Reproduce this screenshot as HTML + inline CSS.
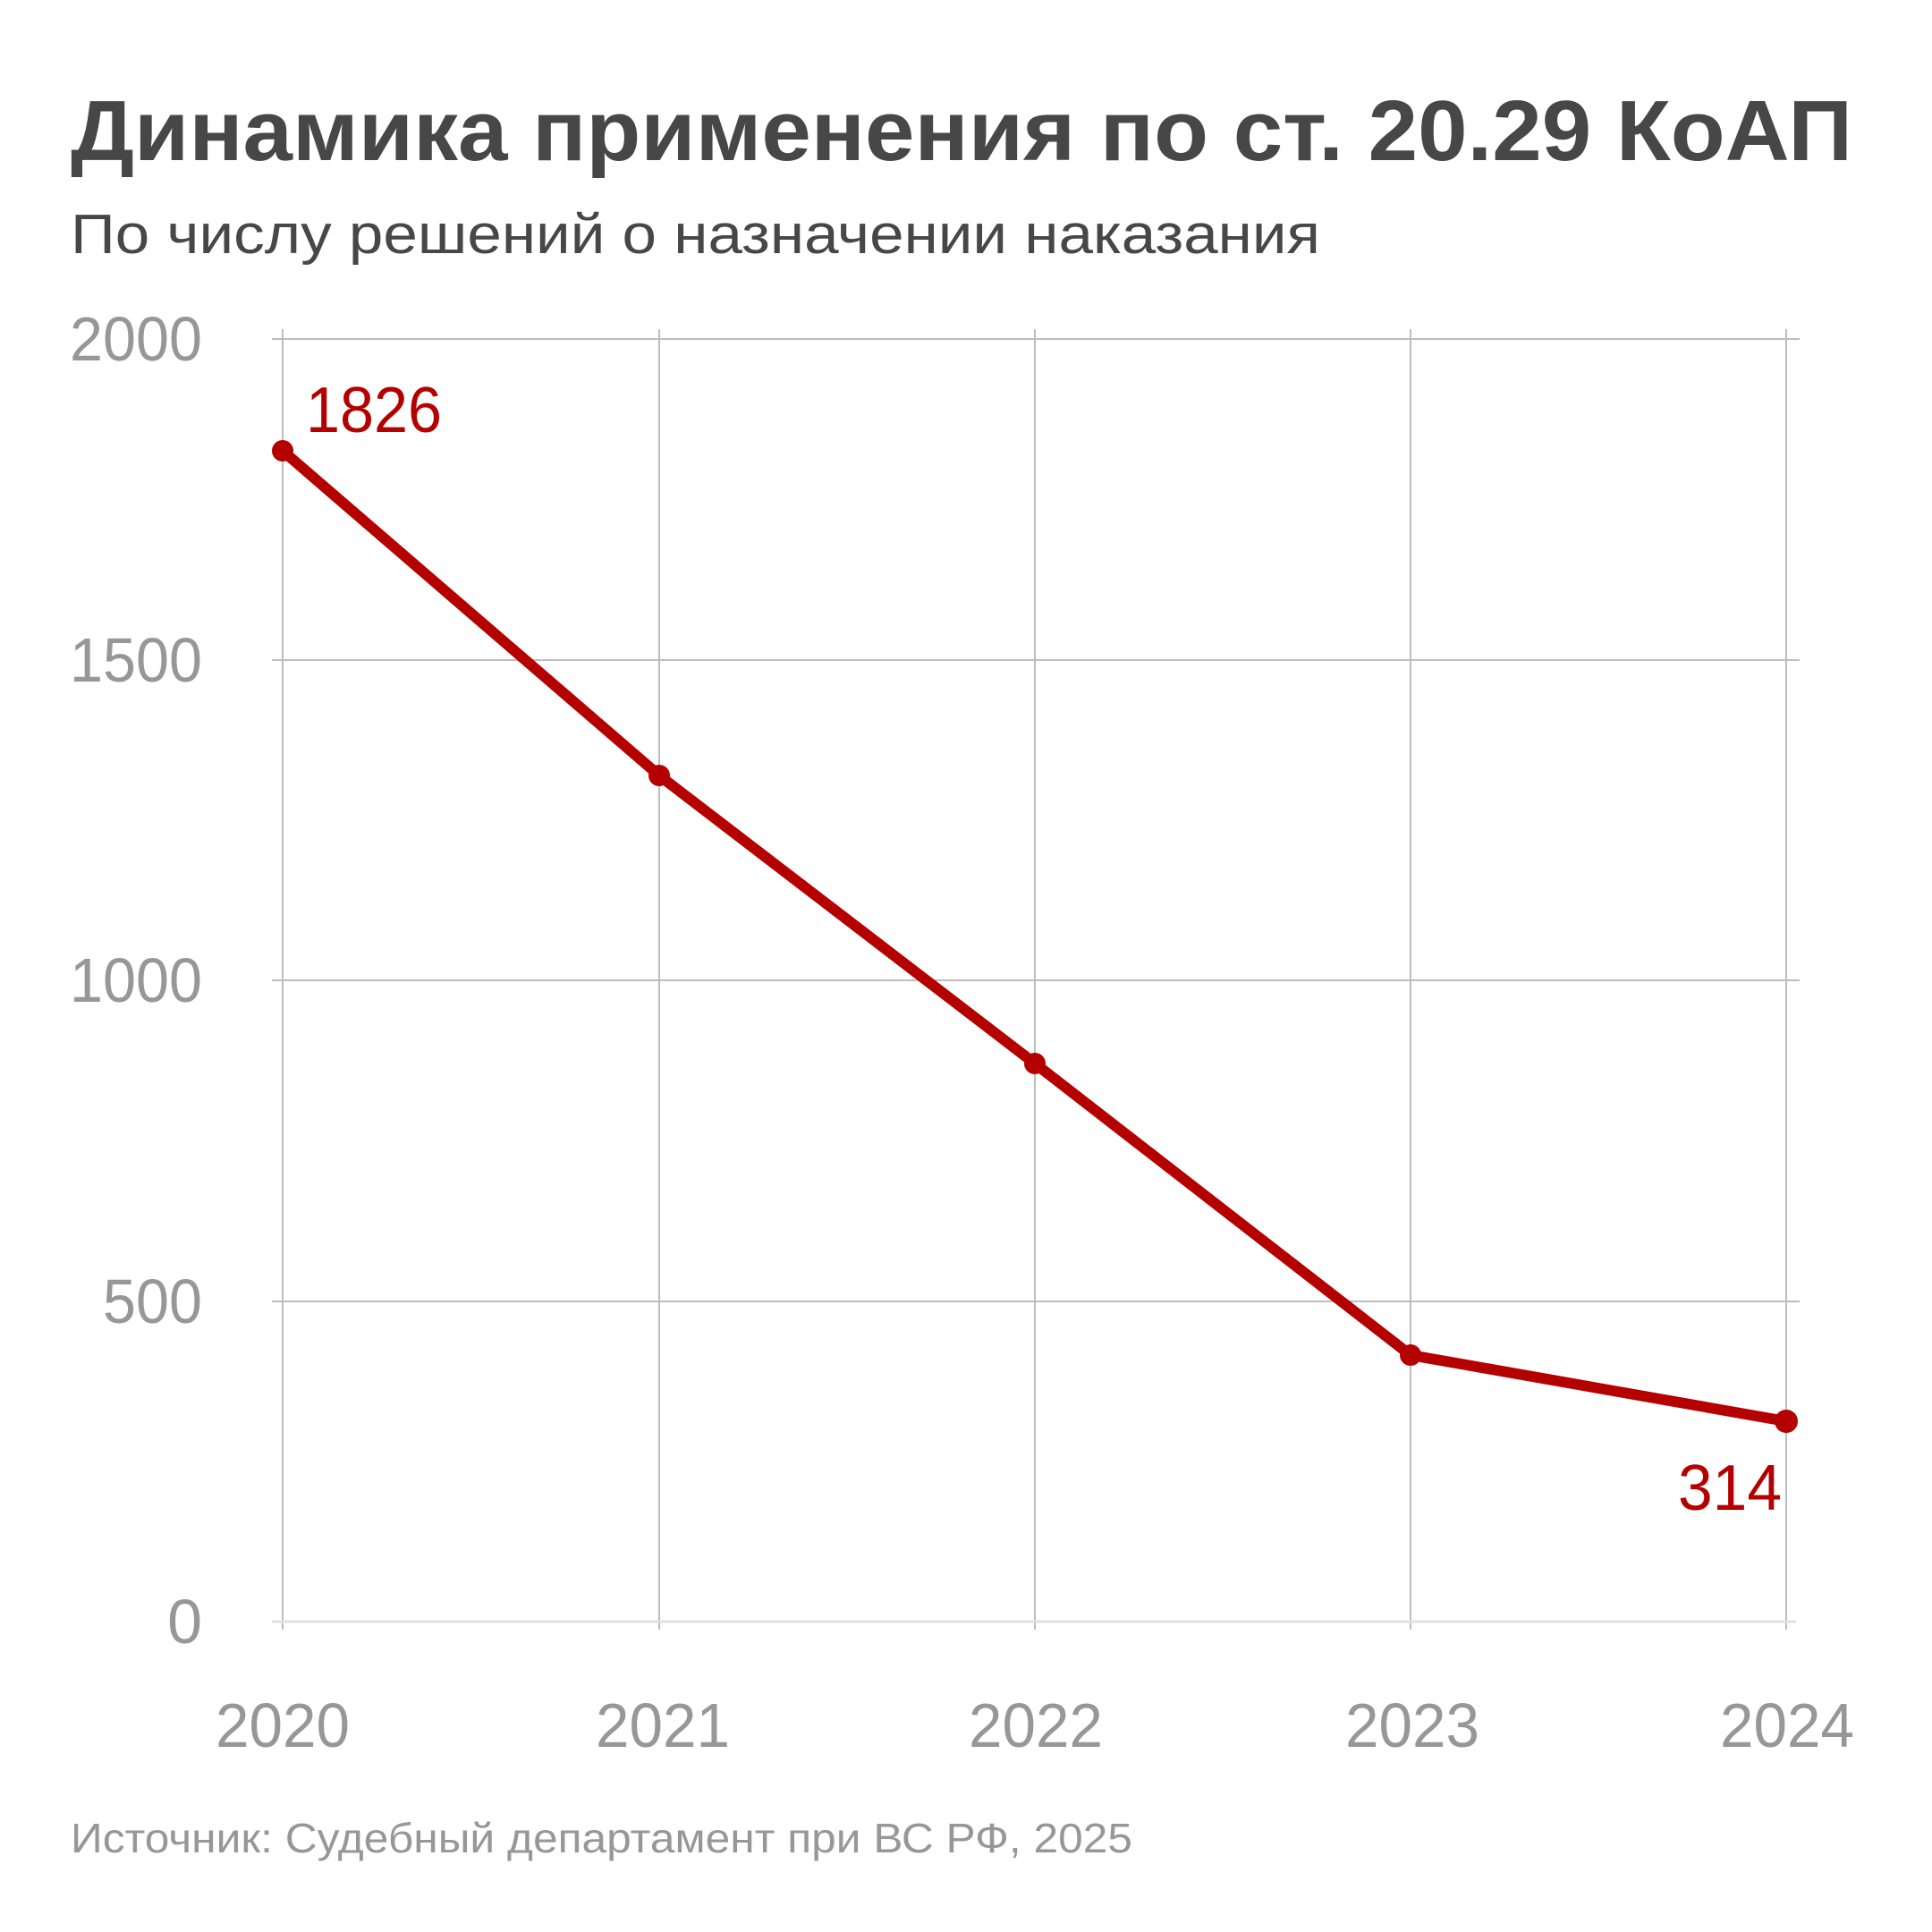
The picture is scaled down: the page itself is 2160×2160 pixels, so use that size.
<!DOCTYPE html>
<html><head><meta charset="utf-8"><style>
html,body{margin:0;padding:0;background:#fff;}
svg{display:block;}
</style></head><body>
<svg width="2160" height="2160" viewBox="0 0 2160 2160" xmlns="http://www.w3.org/2000/svg" font-family="'Liberation Sans', sans-serif">
<text x="79" y="179" font-size="96" font-weight="bold" fill="#474747" textLength="1992" lengthAdjust="spacingAndGlyphs">Динамика применения по ст. 20.29 КоАП</text>
<text x="79" y="283" font-size="62" fill="#474747" textLength="1397" lengthAdjust="spacingAndGlyphs">По числу решений о назначении наказания</text>
<g stroke="#bdbdbd" stroke-width="2">
<line x1="304" y1="379" x2="2012" y2="379"/>
<line x1="304" y1="738" x2="2012" y2="738"/>
<line x1="304" y1="1096" x2="2012" y2="1096"/>
<line x1="304" y1="1455" x2="2012" y2="1455"/>
<line x1="316" y1="368" x2="316" y2="1822"/>
<line x1="737" y1="368" x2="737" y2="1822"/>
<line x1="1157" y1="368" x2="1157" y2="1822"/>
<line x1="1577" y1="368" x2="1577" y2="1822"/>
<line x1="1997" y1="368" x2="1997" y2="1822"/>
</g>
<line x1="304" y1="1813" x2="2008" y2="1813" stroke="#e0e0e0" stroke-width="3"/>
<g font-size="70" fill="#979797" text-anchor="end">
<text x="226" y="403" textLength="148" lengthAdjust="spacingAndGlyphs">2000</text>
<text x="226" y="762" textLength="148" lengthAdjust="spacingAndGlyphs">1500</text>
<text x="226" y="1120" textLength="148" lengthAdjust="spacingAndGlyphs">1000</text>
<text x="226" y="1479" textLength="111" lengthAdjust="spacingAndGlyphs">500</text>
<text x="226" y="1837">0</text>
</g>
<g font-size="70" fill="#979797" text-anchor="middle">
<text x="316" y="1953" textLength="150" lengthAdjust="spacingAndGlyphs">2020</text>
<text x="741" y="1953" textLength="150" lengthAdjust="spacingAndGlyphs">2021</text>
<text x="1158" y="1953" textLength="150" lengthAdjust="spacingAndGlyphs">2022</text>
<text x="1579" y="1953" textLength="150" lengthAdjust="spacingAndGlyphs">2023</text>
<text x="1998" y="1953" textLength="150" lengthAdjust="spacingAndGlyphs">2024</text>
</g>
<polyline points="316,504 737,867 1157,1189 1577,1515 1997,1589" fill="none" stroke="#b50000" stroke-width="12" stroke-linejoin="round" stroke-linecap="round"/>
<g fill="#b50000">
<circle cx="316" cy="504" r="12"/>
<circle cx="737" cy="867" r="12"/>
<circle cx="1157" cy="1189" r="12"/>
<circle cx="1577" cy="1515" r="12"/>
<circle cx="1997" cy="1589" r="13"/>
</g>
<g font-size="72" fill="#b50000">
<text x="342" y="483" textLength="152" lengthAdjust="spacingAndGlyphs">1826</text>
<text x="1992" y="1688" text-anchor="end" textLength="116" lengthAdjust="spacingAndGlyphs">314</text>
</g>
<text x="79" y="2071" font-size="46" fill="#979797" textLength="1187" lengthAdjust="spacingAndGlyphs">Источник: Судебный департамент при ВС РФ, 2025</text>
</svg>
</body></html>
